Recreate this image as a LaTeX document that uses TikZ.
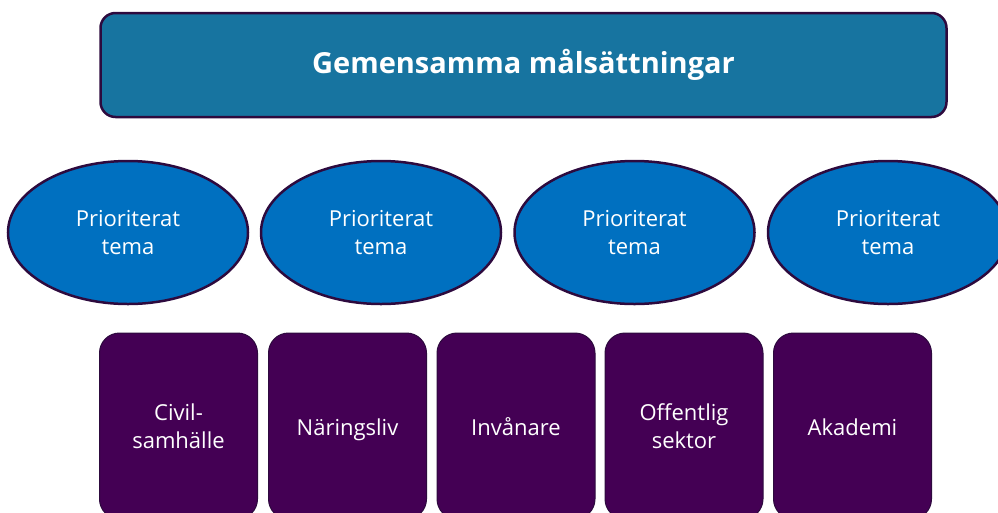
\documentclass[tikz,border=0pt]{standalone}
\usepackage{fontspec}
\setmainfont{Open Sans}
\usetikzlibrary{shapes.geometric}
\definecolor{topfill}{RGB}{23,116,160}
\definecolor{ellfill}{RGB}{0,112,192}
\definecolor{edge}{RGB}{45,10,62}
\definecolor{boxfill}{RGB}{68,0,84}
\tikzset{
  topbox/.style={draw=edge, line width=2.5pt, fill=topfill, rounded corners=15pt,
    minimum width=846pt, minimum height=104pt, text=white,
    font=\fontsize{29}{34}\selectfont\bfseries, inner sep=0pt},
  theme/.style={ellipse, draw=edge, line width=2.5pt, fill=ellfill,
    minimum width=240pt, minimum height=143pt, text=white, align=center,
    font=\fontsize{22}{28}\selectfont, inner sep=0pt},
  actor/.style={draw=edge, line width=1pt, fill=boxfill, rounded corners=20pt,
    minimum width=158pt, minimum height=186pt, text=white, align=center,
    font=\fontsize{22}{28}\selectfont, inner sep=0pt},
  oneline/.style={text height=21pt, text depth=3pt}
}
\begin{document}
\begin{tikzpicture}[x=1pt,y=-1pt]
\useasboundingbox (0,0) rectangle (998,512);
\node[topbox] (goal) at (523.5,65) {Gemensamma målsättningar};
\node[theme] (t1) at (128,232.5) {Prioriterat\\tema};
\node[theme] (t2) at (381,232.5) {Prioriterat\\tema};
\node[theme] (t3) at (634.5,232.5) {Prioriterat\\tema};
\node[theme] (t4) at (888,232.5) {Prioriterat\\tema};
\node[actor] (a1) at (178.5,426) {Civil-\\samhälle};
\node[actor, oneline] (a2) at (347.5,426) {Näringsliv};
\node[actor, oneline] (a3) at (516,426) {Invånare};
\node[actor] (a4) at (684,426) {Offentlig\\sektor};
\node[actor, oneline] (a5) at (852.5,426) {Akademi};
\end{tikzpicture}
\end{document}
